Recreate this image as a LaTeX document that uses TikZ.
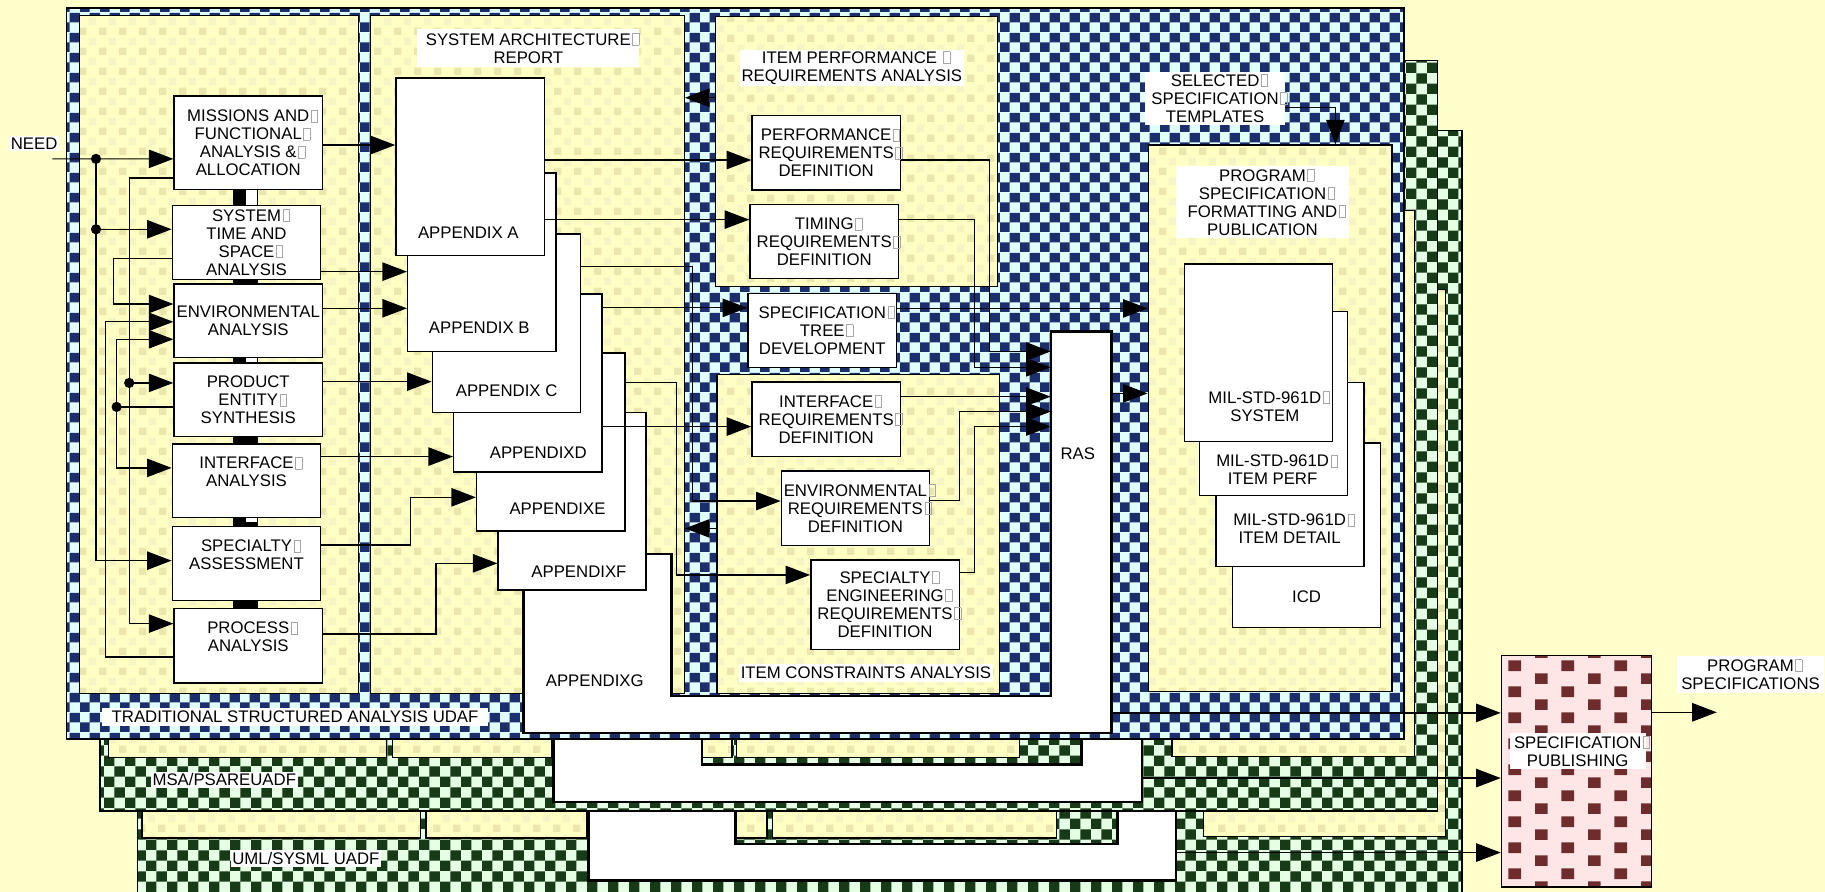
\documentclass[tikz,border=0pt]{standalone}
\usepackage{fontspec}
\setmainfont{Liberation Sans}
\usepackage{tikz}
\usetikzlibrary{arrows.meta,calc,patterns.meta}
\definecolor{pagebg}{HTML}{FFFFCC}
\definecolor{navychk}{HTML}{1B2F6E}
\definecolor{cyanchk}{HTML}{E2FFFF}
\definecolor{grnchk}{HTML}{173A17}
\definecolor{mintchk}{HTML}{E4FFE4}
\definecolor{panelyel}{HTML}{FFFFC4}
\definecolor{spotdark}{HTML}{EAE6AE}
\definecolor{spotlite}{HTML}{F6F4C2}
\definecolor{pubpink}{HTML}{FFE6E6}
\definecolor{pubdot}{HTML}{6E2C2C}

% checker and spot fills
\pgfdeclarepattern{
  name=navygrid, type=colored,
  bottom left={\pgfpointorigin}, top right={\pgfpoint{9.8pt}{9.8pt}},
  tile size={\pgfpoint{9.8pt}{9.8pt}},
  code={
    \pgfsetfillcolor{navychk}
    \pgfpathrectangle{\pgfpointorigin}{\pgfpoint{4.9pt}{4.9pt}}
    \pgfpathrectangle{\pgfpoint{4.9pt}{4.9pt}}{\pgfpoint{4.9pt}{4.9pt}}
    \pgfusepath{fill}
  }
}
\pgfdeclarepattern{
  name=greengrid, type=colored,
  bottom left={\pgfpointorigin}, top right={\pgfpoint{10.2pt}{10.2pt}},
  tile size={\pgfpoint{10.2pt}{10.2pt}},
  code={
    \pgfsetfillcolor{grnchk}
    \pgfpathrectangle{\pgfpointorigin}{\pgfpoint{5.1pt}{5.1pt}}
    \pgfpathrectangle{\pgfpoint{5.1pt}{5.1pt}}{\pgfpoint{5.1pt}{5.1pt}}
    \pgfusepath{fill}
  }
}
\pgfdeclarepattern{
  name=yelspots, type=colored,
  bottom left={\pgfpointorigin}, top right={\pgfpoint{9.6pt}{9.6pt}},
  tile size={\pgfpoint{9.6pt}{9.6pt}},
  code={
    \pgfsetfillcolor{spotdark}
    \pgfpathrectangle{\pgfpoint{0.6pt}{0.6pt}}{\pgfpoint{3.6pt}{3.6pt}}
    \pgfusepath{fill}
    \pgfsetfillcolor{spotlite}
    \pgfpathrectangle{\pgfpoint{5.4pt}{5.4pt}}{\pgfpoint{3.6pt}{3.6pt}}
    \pgfusepath{fill}
  }
}
\pgfdeclarepattern{
  name=pubgrid, type=colored,
  bottom left={\pgfpointorigin}, top right={\pgfpoint{25.9pt}{12.7pt}},
  tile size={\pgfpoint{25.9pt}{12.7pt}},
  code={
    \pgfsetfillcolor{pubdot}
    \pgfpathrectangle{\pgfpointorigin}{\pgfpoint{6.2pt}{5.2pt}}
    \pgfpathrectangle{\pgfpoint{12.95pt}{6.35pt}}{\pgfpoint{6.2pt}{5.2pt}}
    \pgfusepath{fill}
  }
}

\newcommand\dsz{\fontsize{8.2}{8.8}\selectfont}
\newcommand\gly{\rlap{\kern0.8pt{\color{black!35}\fboxsep=0pt\fboxrule=0.3pt\fbox{\rule{0pt}{5.6pt}\hspace{2.8pt}}}}}

\tikzset{
  sz/.style 2 args={minimum width=#1*0.02cm, minimum height=#2*0.02cm},
  wbox/.style={draw, line width=0.7pt, fill=white, align=center, font=\dsz, inner sep=0pt},
  lbl/.style={align=center, font=\dsz, inner sep=0pt},
  wlbl/.style={fill=white, align=center, font=\dsz, inner sep=0.8pt},
  flow/.style={-{Triangle[length=12pt,width=9pt]}, line width=0.6pt},
  jdot/.style={circle, fill=black, inner sep=0pt, minimum size=5pt},
  navyframe/.style={draw, line width=0.8pt, preaction={fill=cyanchk}, pattern=navygrid},
  greenframe/.style={draw, line width=0.8pt, preaction={fill=mintchk}, pattern=greengrid},
  ypanel/.style={draw, line width=0.6pt, preaction={fill=panelyel}, pattern=yelspots},
  gwhite/.style={draw, line width=1.2pt, fill=white},
}

\begin{document}
\begin{tikzpicture}[x=0.02cm,y=-0.02cm]
\useasboundingbox (0,0) rectangle (1568,766);
\fill[pagebg] (0,0) rectangle (1568,766);

% UML/SysML layer (back)
\node[greenframe, sz={1138}{708}] (uml) at (687,466) {};
\node[ypanel, sz={208}{470}] (umlprog) at (1138,484) {};
\node[ypanel, sz={239}{40}] (umls1) at (241.5,700) {};
\node[ypanel, sz={138}{40}] (umls2) at (435,700) {};
\node[ypanel, sz={26}{40}] (umls3) at (646,700) {};
\node[ypanel, sz={244}{40}] (umls4) at (786,700) {};
\draw[gwhite] (505.5,603) -- (632,603) -- (632,725) -- (960,725) -- (960,411.5)
  -- (1010.5,411.5) -- (1010.5,756.5) -- (505.5,756.5) -- cycle;
\node[inner sep=0pt, sz={50.5}{345}] (umlras) at (985.3,584) {};
\node[wlbl, sz={126.5}{14.6}] (umllbl) at (262.8,737.3) {UML/SYSML UADF};

% MSA/PSARE layer
\node[greenframe, sz={1149}{645}] (msa) at (660.5,374.5) {};
\node[ypanel, sz={208}{469}] (msaprog) at (1111,415.5) {};
\node[ypanel, sz={239}{31}] (msas1) at (212.5,635.5) {};
\node[ypanel, sz={137}{31}] (msas2) at (405.5,635.5) {};
\node[ypanel, sz={26}{31}] (msas3) at (616,635.5) {};
\node[ypanel, sz={243}{31}] (msas4) at (754.5,635.5) {};
\draw[gwhite] (475.6,535) -- (603,535) -- (603,657) -- (929,657) -- (929,344)
  -- (981,344) -- (981,689) -- (475.6,689) -- cycle;
\node[inner sep=0pt, sz={52}{345}] (msaras) at (955,516.5) {};
\node[wlbl, sz={124.6}{14}] (msalbl) at (192.7,670) {MSA/PSAREUADF};

% traditional structured analysis layer (front)
\node[navyframe, sz={1149}{628}] (tsa) at (631.5,321) {};
\node[wlbl, sz={331}{16}] (tsalbl) at (253.5,616) {TRADITIONAL STRUCTURED ANALYSIS UDAF};
\node[ypanel, sz={240}{583}] (sa) at (188,304.5) {};
\node[ypanel, sz={270}{583}] (sar) at (453,304.5) {};
\node[ypanel, sz={242}{232}] (ipa) at (736,130) {};
\node[ypanel, sz={243}{274}] (ica) at (737.5,459) {};
\node[ypanel, sz={209.5}{469.4}] (prog) at (1091.3,359.3) {};

% appendix G and RAS share one outline
\draw[gwhite] (449.6,475.8) -- (577,475.8) -- (577,598) -- (903,598) -- (903,285)
  -- (955,285) -- (955,630) -- (449.6,630) -- cycle;
\node[inner sep=0pt, sz={52}{345}] (ras) at (929,457.5) {};

% links between analysis boxes
\fill (200,162.6) rectangle (222,176.3);
\draw[fill=white, line width=0.4pt] (211,162.6) rectangle (221,176.3);
\fill (200,240) rectangle (222,244);
\fill (200,307.4) rectangle (222,312);
\draw[fill=white, line width=0.4pt] (211,307.4) rectangle (221,312);
\fill (200,375) rectangle (222,381.5);
\fill (200,444.5) rectangle (222,452.5);
\draw[fill=white, line width=0.4pt] (211,444.5) rectangle (221,449);
\fill (200,515.8) rectangle (222,523);

% system analysis
\node[wbox, sz={127.5}{80.1}] (mis) at (213.3,122.6) {MISSIONS AND\gly\\FUNCTIONAL\gly\\ANALYSIS \&\gly\\ALLOCATION};
\node[wbox, sz={127.5}{63.7}] (sys) at (211.8,208.2) {SYSTEM\gly\\TIME AND\\SPACE\gly\\ANALYSIS};
\node[wbox, sz={127.5}{63.4}] (env) at (213.3,275.7) {ENVIRONMENTAL\\ANALYSIS};
\node[wbox, sz={127.5}{63}] (prod) at (213.3,343.5) {PRODUCT\\ENTITY\gly\\SYNTHESIS};
\node[wbox, sz={127.5}{63}] (intf) at (211.8,413) {INTERFACE\gly\\ANALYSIS\\\mbox{}};
\node[wbox, sz={127.5}{63.3}] (spec) at (211.8,484.2) {SPECIALTY\gly\\ASSESSMENT\\\mbox{}};
\node[wbox, sz={127.5}{63.8}] (proc) at (213.3,554.9) {PROCESS\gly\\ANALYSIS\\\mbox{}};

% system architecture report
\node[wlbl, sz={190.6}{32.1}] (sartitle) at (453.9,41.3) {SYSTEM ARCHITECTURE\gly\\REPORT};
\node[wbox, sz={127.2}{152.7}] (apF) at (491.6,430.7) {};
\node[wbox, sz={127.5}{152.9}] (apE) at (473.3,379.8) {};
\node[wbox, sz={127.4}{152.9}] (apD) at (453.5,328.9) {};
\node[wbox, sz={127.5}{153.3}] (apC) at (435.2,277.7) {};
\node[wbox, sz={127.5}{153.3}] (apB) at (414,225.3) {};
\node[wbox, sz={127.4}{152.6}] (apA) at (403.9,143.2) {};
\node[lbl] (apAt) at (402.4,200) {APPENDIX A};
\node[lbl] (apBt) at (411.8,281.8) {APPENDIX B};
\node[lbl] (apCt) at (435.3,335.3) {APPENDIX C};
\node[lbl] (apDt) at (462.5,388.7) {APPENDIXD};
\node[lbl] (apEt) at (479,436.7) {APPENDIXE};
\node[lbl] (apFt) at (497.4,491) {APPENDIXF};
\node[lbl] (apGt) at (511,585) {APPENDIXG};

% item performance and constraints
\node[wlbl, sz={188.1}{30.6}] (ipatitle) at (731.9,58.3) {ITEM PERFORMANCE \gly\\REQUIREMENTS ANALYSIS};
\node[wbox, sz={127.5}{63.8}] (perf) at (709.8,131.3) {PERFORMANCE\gly\\REQUIREMENTS\gly\\DEFINITION};
\node[wbox, sz={127.7}{63.6}] (tim) at (708.2,207.6) {TIMING\gly\\REQUIREMENTS\gly\\DEFINITION};
\node[wbox, sz={127.7}{63.9}] (tree) at (706.5,284) {SPECIFICATION\gly\\TREE\gly\\DEVELOPMENT};
\node[wbox, sz={127.5}{64.3}] (ireq) at (709.8,360.2) {INTERFACE\gly\\REQUIREMENTS\gly\\DEFINITION};
\node[wbox, sz={127.2}{64.2}] (ereq) at (734.9,436.7) {ENVIRONMENTAL\gly\\REQUIREMENTS\gly\\DEFINITION};
\node[wbox, sz={127.6}{76.8}] (sreq) at (760.4,519.4) {SPECIALTY\gly\\ENGINEERING\gly\\REQUIREMENTS\gly\\DEFINITION};
\node[wlbl, sz={213.8}{14.9}] (icatitle) at (744,578.2) {ITEM CONSTRAINTS ANALYSIS};
\node[lbl] (rast) at (926,390) {RAS};

% program specification formatting
\node[wlbl, sz={120}{45.8}] (sst) at (1044,84.5) {SELECTED\gly\\SPECIFICATION\gly\\TEMPLATES};
\node[wlbl, sz={148.7}{62.1}] (progtitle) at (1084.7,173.7) {PROGRAM\gly\\SPECIFICATION\gly\\FORMATTING AND\gly\\PUBLICATION};
\node[wbox, sz={127.1}{158.2}] (icd) at (1122.6,459.9) {};
\node[wbox, sz={127.1}{158.3}] (mdet) at (1108.3,407.7) {};
\node[wbox, sz={127.5}{158}] (mperf) at (1094.1,346.8) {};
\node[wbox, sz={127.5}{152.7}] (msys) at (1081.3,303.2) {};
\node[lbl] (msyst) at (1086.7,349.2) {MIL-STD-961D\gly\\SYSTEM};
\node[lbl] (mperft) at (1093.4,403.5) {MIL-STD-961D\gly\\ITEM PERF};
\node[lbl] (mdett) at (1108,454.2) {MIL-STD-961D\gly\\ITEM DETAIL};
\node[lbl] (icdt) at (1122.6,512.6) {ICD};

% publishing
\node[draw, line width=0.7pt, preaction={fill=pubpink}, pattern=pubgrid, sz={129}{199}] (pub) at (1354.5,662.5) {};
\node[wlbl, sz={117}{31}] (publbl) at (1355.5,645.5) {SPECIFICATION\gly\\PUBLISHING};
\node[wlbl, sz={126}{31}] (outlbl) at (1504,579.5) {PROGRAM\gly\\SPECIFICATIONS};
\coordinate (pubout) at (1475,612);

% inputs of the system analysis
\node[wlbl, sz={39.4}{11.5}] (need) at (29.3,123.2) {NEED};
\coordinate (needin) at (45,136.5);
\node[jdot] (j1) at (82.5,136.5) {};
\node[jdot] (j2) at (82.5,197) {};
\node[jdot] (j3) at (111,329) {};
\node[jdot] (j4) at (100.2,349.6) {};
\draw[flow] (needin) -- ($(mis.west)+(0,13.9)$);
\draw[flow] (j1.center) |- ($(spec.west)+(0,-2.5)$);
\draw[flow] (j2.center) -- ($(sys.west)+(0,-11.2)$);
\draw[flow] ($(mis.west)+(0,30.4)$) -| (j3.center) |- ($(proc.west)+(0,-19.1)$);
\draw[flow] (j3.center) -- ($(prod.west)+(0,-14.5)$);
\draw[flow] ($(sys.west)+(0,14.2)$) -- ($(sys.west)+(-49.8,14.2)$) |- ($(env.west)+(0,-14.5)$);
\draw[flow] ($(proc.west)+(0,9.6)$) -- ($(proc.west)+(-58.5,9.6)$) |- ($(env.west)+(0,0.8)$);
\draw[flow] ($(prod.west)+(0,6.1)$) -- (j4.center) |- ($(env.west)+(0,15.8)$);
\draw[flow] (j4.center) |- ($(intf.west)+(0,-11)$);

% analysis to appendices
\draw[flow] ($(mis.east)+(0,2)$) -- ($(mis.east -| apA.west)+(0,2)$);
\draw[flow] ($(sys.east)+(0,25.2)$) -- ($(sys.east -| apB.west)+(0,25.2)$);
\draw[flow] ($(env.east)+(0,-10.8)$) -- ($(env.east -| apB.west)+(0,-10.8)$);
\draw[flow] ($(prod.east)+(0,-15.6)$) -- ($(prod.east -| apC.west)+(0,-15.6)$);
\draw[flow] ($(intf.east)+(0,-20.7)$) -- ($(intf.east -| apD.west)+(0,-20.7)$);
\draw[flow] ($(spec.east)+(0,-16)$) -- ($(spec.east)+(76.5,-16)$) |- ($(apE.west)+(0,47.5)$);
\draw[flow] ($(proc.east)+(0,-10.2)$) -- ($(proc.east)+(97,-10.2)$) |- ($(apF.west)+(0,53.3)$);

% appendices to requirements
\draw[flow] ($(apA.east)+(0,-5.7)$) -- ($(apA.east -| perf.west)+(0,-5.7)$);
\draw[flow] ($(apA.east)+(0,45.5)$) -- ($(apA.east -| tim.west)+(0,45.5)$);
\draw[flow] ($(apC.east)+(0,-48.4)$) -- ($(apC.east)+(95.1,-48.4)$) |- ($(ereq.west)+(0,-6.2)$);
\draw[flow] ($(apD.east)+(0,-64.4)$) -- ($(apD.east -| tree.west)+(0,-64.4)$);
\draw[flow] ($(apD.east)+(0,37.6)$) -- ($(apD.east -| ireq.west)+(0,37.6)$);
\draw[flow] ($(apE.east)+(0,-51.3)$) -- ($(apE.east)+(43.5,-51.3)$) |- ($(sreq.west)+(0,-25.4)$);
\draw[flow] ($(ipa.west)+(0,-46)$) -- ($(ipa.west -| sar.east)+(0,-46)$);
\draw[flow] ($(ica.west)+(0,-5)$) -- ($(ica.west -| sar.east)+(0,-5)$);

% requirements to RAS
\draw[flow] ($(perf.east)+(0,6.2)$) -- ($(perf.east)+(76.3,6.2)$) |- ($(ras.west)+(0,-155.5)$);
\draw[flow] ($(tim.east)+(0,-19.3)$) -- ($(tim.east)+(64.8,-19.3)$) |- ($(ras.west)+(0,-141.9)$);
\draw[flow] ($(ireq.east)+(0,-19.4)$) -- ($(ireq.east -| ras.west)+(0,-19.4)$);
\draw[flow] ($(ereq.east)+(0,-6.7)$) -- ($(ereq.east)+(25,-6.7)$) |- ($(ras.west)+(0,-103.8)$);
\draw[flow] ($(sreq.east)+(0,-27.4)$) -- ($(sreq.east)+(12.6,-27.4)$) |- ($(ras.west)+(0,-91)$);

% into formatting and publishing
\draw[flow] ($(tree.east)+(0,-19)$) -- ($(tree.east -| prog.west)+(0,-19)$);
\draw[flow] ($(ras.east)+(0,-119.5)$) -- ($(ras.east -| prog.west)+(0,-119.5)$);
\draw[flow] ($(sst.east)+(0,7.7)$) -| ($(prog.north west)+(161.3,0)$);
\draw[flow] ($(ras.east)+(0,155)$) -- ($(ras.east -| pub.west)+(0,155)$);
\draw[flow] ($(msaras.east)+(0,152)$) -- ($(msaras.east -| pub.west)+(0,152)$);
\draw[flow] ($(umlras.east)+(0,148.5)$) -- ($(umlras.east -| pub.west)+(0,148.5)$);
\draw[flow] (pub.east |- pubout) -- (pubout);
\end{tikzpicture}
\end{document}
